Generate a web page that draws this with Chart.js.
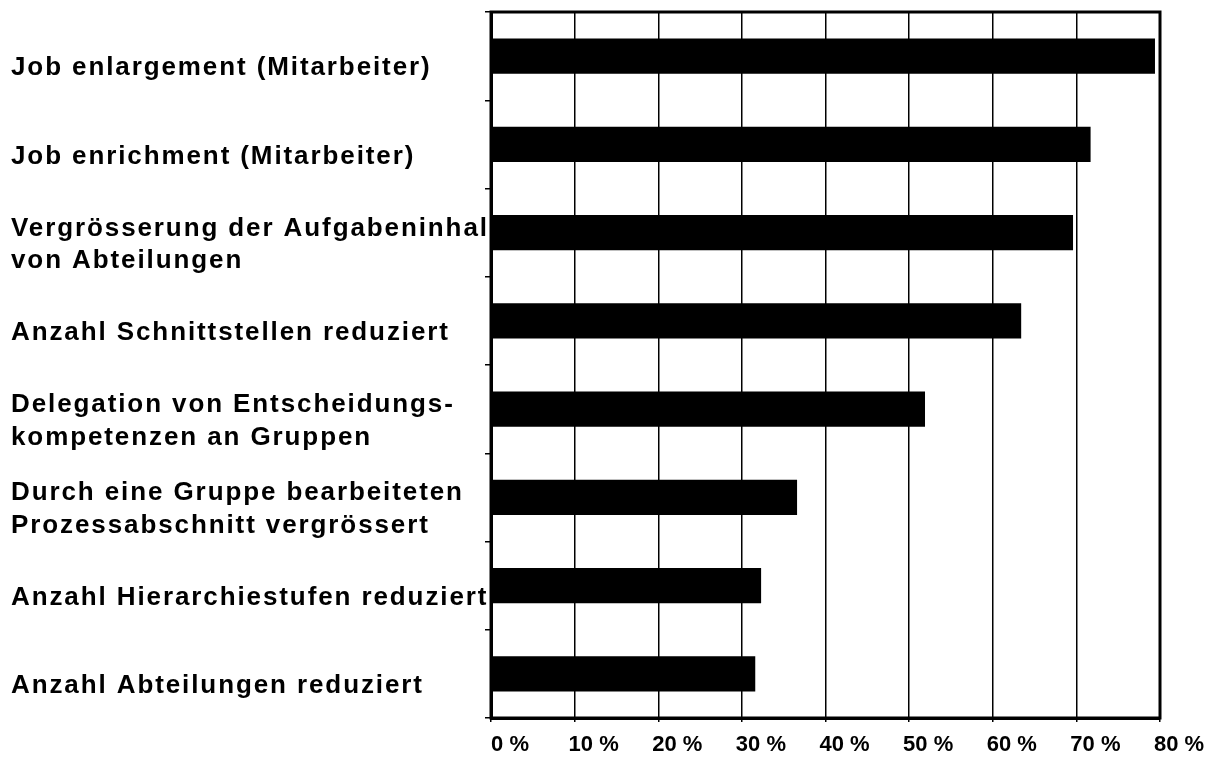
<!DOCTYPE html>
<html>
<head>
<meta charset="utf-8">
<script src="https://cdn.jsdelivr.net/npm/chart.js@4/dist/chart.umd.min.js"></script>
<style>
    html, body { margin: 0; padding: 0; background: #fff; }
    #wrap { width: 1223px; height: 758px; position: relative; }
</style>
</head>
<body>
<div id="wrap"><canvas id="chart"></canvas></div>
<script>
    const categories = [
        "Job enlargement (Mitarbeiter)",
        "Job enrichment (Mitarbeiter)",
        ["Vergrösserung der Aufgabeninhal", "von Abteilungen"],
        "Anzahl Schnittstellen reduziert",
        ["Delegation von Entscheidungs-", "kompetenzen an Gruppen"],
        ["Durch eine Gruppe bearbeiteten", "Prozessabschnitt vergrössert"],
        "Anzahl Hierarchiestufen reduziert",
        "Anzahl Abteilungen reduziert"
    ];
    const shares = [79.4, 71.7, 69.6, 63.4, 51.9, 36.6, 32.3, 31.6];
    const xTicks = [0, 10, 20, 30, 40, 50, 60, 70, 80];

    const fontFamily = "'Liberation Sans', Arial, sans-serif";

    // frame around the plot area (top and right edges)
    const frame = {
        id: 'frame',
        afterDraw(chart) {
            const a = chart.chartArea;
            const c = chart.ctx;
            c.save();
            c.strokeStyle = '#000';
            c.lineWidth = 3;
            c.strokeRect(a.left, a.top, a.right - a.left, a.bottom - a.top);
            c.restore();
        }
    };

    // a bit of letter spacing for the category labels
    const spacedLabels = {
        id: 'spacedLabels',
        afterLayout(chart) {
            const s = chart.scales.y;
            if (s._spaced) return;
            const orig = s.drawLabels;
            s.drawLabels = function(area) {
                const c = this.ctx;
                c.save();
                c.letterSpacing = '1.9px';
                orig.call(this, area);
                c.restore();
            };
            s._spaced = true;
        }
    };

    new Chart(document.getElementById('chart'), {
        type: 'bar',
        data: {
            labels: categories,
            datasets: [{
                data: shares,
                backgroundColor: '#000',
                borderWidth: 0,
                categoryPercentage: 1,
                barPercentage: 0.4
            }]
        },
        options: {
            indexAxis: 'y',
            responsive: true,
            maintainAspectRatio: false,
            animation: false,
            layout: { padding: { top: 12, right: 63, left: 11, bottom: 0 } },
            plugins: {
                legend: { display: false },
                tooltip: { enabled: false }
            },
            scales: {
                x: {
                    min: 0,
                    max: 80,
                    afterBuildTicks: function(scale) {
                        scale.ticks = xTicks.map(v => ({ value: v }));
                    },
                    afterFit: function(scale) {
                        scale.height = 40;
                    },
                    grid: { color: '#000', lineWidth: 1.5, tickLength: 4 },
                    border: { color: '#000', width: 3 },
                    ticks: {
                        color: '#000',
                        padding: 10,
                        labelOffset: 19,
                        maxRotation: 0,
                        font: { family: fontFamily, size: 22, weight: 'bold', lineHeight: 1.2 },
                        callback: function(value) {
                            return value + ' %';
                        }
                    }
                },
                y: {
                    afterFit: function(scale) {
                        scale.width = 480;
                        scale.paddingTop = 0;
                        scale.paddingBottom = 0;
                    },
                    grid: { drawOnChartArea: false, color: '#000', tickLength: 6, lineWidth: 1.5 },
                    border: { color: '#000', width: 3 },
                    ticks: {
                        color: '#000',
                        crossAlign: 'far',
                        labelOffset: 12,
                        autoSkip: false,
                        font: { family: fontFamily, size: 26, weight: 'bold', lineHeight: 1.25 }
                    }
                }
            }
        },
        plugins: [frame, spacedLabels]
    });
</script>
</body>
</html>
